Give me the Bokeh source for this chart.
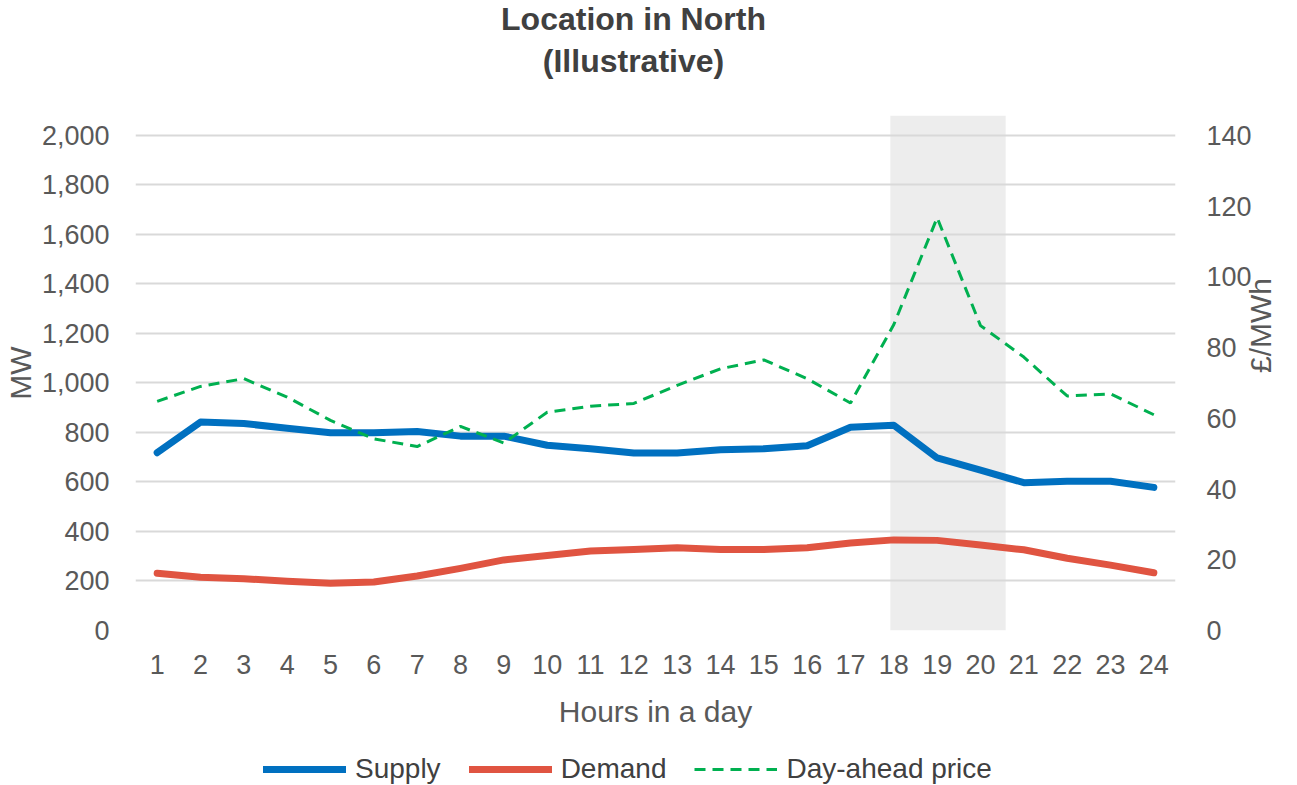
from bokeh.plotting import figure
from bokeh.layouts import column
from bokeh.models import (Range1d, LinearAxis, BoxAnnotation, Legend, LegendItem,
                          Label, FixedTicker, NumeralTickFormatter)
from bokeh.embed import file_html
from bokeh.resources import INLINE

# ---- data ----
hours = list(range(1, 25))
supply = [718, 842, 836, 817, 799, 799, 804, 785, 785, 748, 734, 717,
          717, 730, 734, 746, 821, 829, 697, 648, 597, 603, 603, 578]
demand = [231, 215, 209, 199, 191, 196, 220, 251, 285, 303, 321, 327,
          334, 327, 327, 334, 353, 366, 364, 345, 326, 292, 264, 233]
price = [64.8, 69.0, 71.2, 66.0, 59.4, 54.2, 52.0, 57.7, 53.0, 61.7, 63.4, 64.2,
         69.3, 74.0, 76.5, 71.2, 64.3, 86.5, 116.7, 86.2, 77.3, 66.3, 66.9, 61.0]
peak_window = (17.92, 20.58)
mw_ticks = list(range(0, 2001, 200))
price_ticks = list(range(0, 141, 20))
title_lines = ["Location in North", "(Illustrative)"]
series_names = ["Supply", "Demand", "Day-ahead price"]

FONT = "Liberation Sans"
TXT = "#595959"
COLORS = ["#0070C0", "#E05441", "#00B050"]


def blank_fig(h):
    f = figure(width=1297, height=h, x_axis_type=None, y_axis_type=None,
               output_backend="svg", toolbar_location=None, min_border=0)
    f.outline_line_color = None
    f.grid.visible = False
    f.background_fill_color = "white"
    f.border_fill_color = "white"
    return f


# ---- title strip (frame is aligned with the main chart's frame) ----
pt = blank_fig(115)
pt.x_range = Range1d(0, 1)
pt.y_range = Range1d(0, 1)
for txt, yy in zip(title_lines, [97, 55]):
    pt.add_layout(Label(x=498, y=yy, x_units="screen", y_units="screen", text=txt,
                        text_align="center", text_baseline="middle",
                        text_font=FONT, text_font_size="32px", text_font_style="bold",
                        text_color="#404040"))

# ---- main chart ----
p = figure(width=1297, height=620,
           x_range=Range1d(0.5, 24.5), y_range=Range1d(0, 2080),
           output_backend="svg", toolbar_location=None,
           min_border_left=135, min_border_right=122,
           min_border_top=0, min_border_bottom=105)
p.outline_line_color = None
p.background_fill_color = "white"
p.border_fill_color = "white"
p.extra_y_ranges = {"price": Range1d(0, 145.6)}

box = BoxAnnotation(left=peak_window[0], right=peak_window[1], bottom=0,
                    fill_color="#EDEDED", fill_alpha=1, line_color=None, level="image")
p.add_layout(box)

p.xgrid.visible = False
p.ygrid.grid_line_color = "#D9D9D9"
p.ygrid.grid_line_width = 2
p.ygrid.ticker = FixedTicker(ticks=mw_ticks)

xa = p.xaxis[0]
xa.ticker = FixedTicker(ticks=hours)
xa.axis_label = "Hours in a day"
ya = p.yaxis[0]
ya.ticker = FixedTicker(ticks=mw_ticks)
ya.formatter = NumeralTickFormatter(format="0,0")
ya.axis_label = "MW"
ra = LinearAxis(y_range_name="price", ticker=FixedTicker(ticks=price_ticks),
                axis_label="£/MWh")
p.add_layout(ra, "right")

for ax in [xa, ya, ra]:
    ax.axis_line_color = None
    ax.major_tick_line_color = None
    ax.minor_tick_line_color = None
    ax.major_label_text_font = FONT
    ax.major_label_text_font_size = "27px"
    ax.major_label_text_color = TXT
    ax.axis_label_text_font = FONT
    ax.axis_label_text_font_size = "30px"
    ax.axis_label_text_color = TXT
    ax.axis_label_text_font_style = "normal"

xa.major_label_standoff = 18
xa.axis_label_standoff = 18
ya.major_label_standoff = 20
ya.axis_label_standoff = 2
ra.major_label_standoff = 25
ra.axis_label_standoff = 6
if "axis_label_orientation" in ra.properties():
    ra.axis_label_orientation = 3.14159265 / 2

p.line(hours, supply, line_color=COLORS[0], line_width=7,
       line_cap="round", line_join="round")
p.line(hours, demand, line_color=COLORS[1], line_width=7,
       line_cap="round", line_join="round")
p.line(hours, price, y_range_name="price", line_color=COLORS[2],
       line_width=3, line_dash="11 7")

# ---- legend strip (frame aligned with the main chart's frame) ----
pl = blank_fig(50)
l1 = pl.line(hours, supply, line_color=COLORS[0], line_width=7, line_cap="round", visible=False)
l2 = pl.line(hours, demand, line_color=COLORS[1], line_width=7, line_cap="round", visible=False)
l3 = pl.line(hours, price, line_color=COLORS[2], line_width=3, line_dash="11 7", visible=False)
legend = Legend(items=[LegendItem(label=n, renderers=[r])
                       for n, r in zip(series_names, [l1, l2, l3])],
                orientation="horizontal", location=(128, 0),
                glyph_width=83, glyph_height=26, label_standoff=9, spacing=28,
                padding=0, margin=0, background_fill_alpha=0, border_line_alpha=0,
                inactive_fill_alpha=0,
                label_text_font=FONT, label_text_font_size="28px",
                label_text_color="#404040")
pl.add_layout(legend)

layout = column(pt, p, pl, spacing=0)
open("out.html", "w").write(file_html(layout, INLINE))
